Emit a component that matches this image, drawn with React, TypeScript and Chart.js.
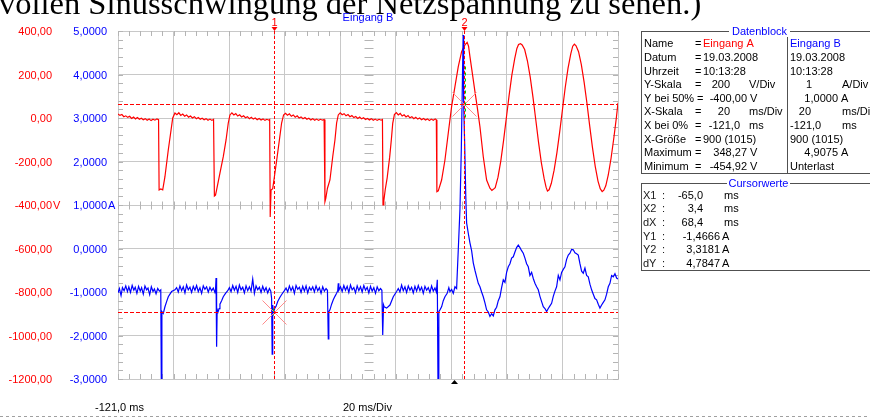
import React, { useEffect, useRef } from 'react';
import { Chart, registerables } from 'chart.js';

Chart.register(...registerables);

// ---------- axis / scale definitions ----------
const X_MIN = -121;
const X_DIV = 20;
const X_DIVS = 9;
const X_MAX = X_MIN + X_DIV * X_DIVS;
const X_GRID = [-121, -101, -81, -61, -41, -21, -1, 19, 39, 59];
const V_TICKS = [400, 200, 0, -200, -400, -600, -800, -1000, -1200];
const V_LABELS = ['400,00', '200,00', '0,00', '-200,00', '-400,00', '-600,00', '-800,00', '-1000,00', '-1200,00'];
const A_TICKS = [5, 4, 3, 2, 1, 0, -1, -2, -3];
const A_LABELS = ['5,0000', '4,0000', '3,0000', '2,0000', '1,0000', '0,0000', '-1,0000', '-2,0000', '-3,0000'];
const X_START_LABEL = '-121,0 ms';
const X_SCALE_LABEL = '20 ms/Div';
const TITLE_B = 'Eingang B';
const TOP_TEXT = 'vollen Sinusschwingung der Netzspannung zu sehen.)';

// cursors
const CURSOR_X1 = -65.0;
const CURSOR_X2 = 3.4;
const CURSOR_Y1 = -1.4666;
const CURSOR_Y2 = 3.3181;
const TRIGGER_T = 0;

// ---------- Eingang A (voltage, V) ----------
const RED_T = [
  -121.0, -120.3, -119.6, -118.9, -118.2, -117.5, -116.8, -116.1, -115.4, -114.7, -114.0, -113.3, -112.6, -111.9, -111.2, -110.5, -109.8, -109.1, -108.4, -107.7, -107.0, -106.4,
  -106.2, -105.6, -104.9, -104.1, -102.9, -101.9, -101.3, -100.5,
  -99.8, -99.1, -98.4, -97.7, -97.0, -96.3, -95.6, -94.9, -94.2, -93.5, -92.8, -92.1, -91.4, -90.7, -90.0, -89.3, -88.6, -87.9, -87.2, -86.6,
  -86.3, -85.9, -85.5, -84.3, -83.1, -82.1, -81.3, -80.7,
  -80.0, -79.3, -78.6, -77.9, -77.2, -76.5, -75.8, -75.1, -74.4, -73.7, -73.0, -72.3, -71.6, -70.9, -70.2, -69.5, -68.8, -68.1, -67.4, -66.7, -66.4,
  -66.2, -65.9, -65.3, -64.7, -63.7, -62.9, -62.1, -61.4,
  -60.7, -60.0, -59.3, -58.6, -57.9, -57.2, -56.5, -55.8, -55.1, -54.4, -53.7, -53.0, -52.3, -51.6, -50.9, -50.2, -49.5, -48.8, -48.1, -47.4, -46.8,
  -46.5, -46.2, -45.6, -44.7, -43.7, -42.9, -42.3, -41.7,
  -41.0, -40.3, -39.6, -38.9, -38.2, -37.5, -36.8, -36.1, -35.4, -34.7, -34.0, -33.3, -32.6, -31.9, -31.2, -30.5, -29.8, -29.1, -28.4, -27.7, -27.0, -26.3, -25.8,
  -25.6, -25.3, -24.8, -24.1, -23.2, -22.6, -22.1, -21.5,
  -20.8, -20.1, -19.4, -18.7, -18.0, -17.3, -16.6, -15.9, -15.2, -14.5, -13.8, -13.1, -12.4, -11.7, -11.0, -10.3, -9.6, -8.9, -8.2, -7.5, -6.8, -6.4,
  -6.2, -5.7, -4.5, -3.3, -2.1, -0.9, 0.3, 1.5, 2.7, 3.9, 4.7, 5.2, 5.7, 6.9, 7.5, 8.3, 9.3, 10.5, 11.7, 12.9, 13.6, 14.1,
  14.8, 15.8, 16.8, 17.8, 18.8, 19.8, 20.8, 21.8, 22.6, 23.2, 23.9, 24.5, 25.4, 26.4, 27.4, 28.4, 29.4, 30.4, 31.4, 32.4, 33.1, 33.6, 34.2,
  35.0, 36.0, 37.0, 38.0, 39.0, 40.0, 41.0, 42.0, 42.7, 43.3, 43.9, 44.8, 45.8, 46.8, 47.8, 48.8, 49.8, 50.8, 51.8, 52.6, 53.3, 53.9,
  54.6, 55.5, 56.5, 57.5, 58.4, 59.0,
];
const RED_V = [
  18, 12, 16, 6, 10, 3, 8, -2, 4, -4, 2, -6, -1, -8, -3, -10, -5, -12, -6, -10, -4, -8,
  -331, -326, -330, -270, -147, -55, 0, 23,
  15, 24, 12, 18, 8, 14, 4, 9, 0, 6, -3, 2, -6, -1, -8, -3, -10, -5, -11, -6,
  -359, -355, -331, -253, -178, -101, -23, 14,
  24, 14, 20, 9, 15, 5, 10, 1, 6, -3, 3, -5, 0, -8, -2, -9, -4, -11, -6, -10, -7,
  -455, -331, -325, -270, -178, -101, -23, 14,
  22, 13, 19, 8, 14, 4, 10, 0, 5, -3, 2, -6, -1, -9, -3, -10, -5, -11, -6, -10, -7,
  -385, -370, -323, -285, -178, -101, -23, 14,
  24, 15, 20, 10, 16, 6, 11, 2, 7, -2, 4, -4, 1, -7, -2, -9, -3, -10, -5, -11, -6, -10, -7,
  -400, -380, -330, -275, -180, -100, -25, 16,
  25, 14, 21, 9, 15, 5, 11, 1, 6, -3, 3, -5, 0, -8, -2, -9, -4, -11, -5, -10, -4, -8,
  -339, -335, -285, -193, -69, 52, 144, 236, 305, 336, 348, 330, 282, 175, 121, 52, -40, -178, -285, -323, -333, -328,
  -320, -272, -198, -104, 0, 104, 198, 272, 320, 338, 342, 336, 315, 262, 188, 95, -8, -112, -205, -278, -318, -336, -330,
  -300, -240, -160, -65, 38, 140, 228, 295, 330, 340, 332, 305, 245, 165, 70, -35, -135, -222, -290, -325, -338, -332,
  -312, -262, -185, -92, 0, 70,
];

// ---------- Eingang B (current, A) ----------
const BLUE_T = [
  -121.0, -120.5, -119.9, -119.4, -118.8, -118.2, -117.6, -117.1, -116.5, -115.9, -115.3, -114.8, -114.2, -113.6, -113.0, -112.5, -111.9, -111.3, -110.7, -110.2, -109.6, -109.0, -108.4, -107.9, -107.3, -106.7, -106.1, -105.6,
  -105.4, -105.2, -104.7, -104.1, -103.5, -102.9, -101.7, -100.5,
  -99.9, -99.3, -98.7, -98.1, -97.5, -96.9, -96.3, -95.7, -95.1, -94.5, -93.9, -93.3, -92.7, -92.1, -91.5, -90.9, -90.3, -89.7, -89.1, -88.5, -87.9, -87.3, -86.7, -86.1,
  -85.9, -85.7, -85.5, -85.3, -85.0, -84.6, -84.3, -83.7, -83.1, -82.3, -81.5,
  -80.9, -80.3, -79.7, -79.1, -78.5, -77.9, -77.3, -76.7, -76.1, -75.5, -74.9, -74.3, -73.7, -73.1, -72.5, -71.9, -71.3, -70.7, -70.1, -69.5, -68.9, -68.3, -67.7, -67.1, -66.5,
  -66.0, -65.7, -65.5, -65.3, -65.0, -64.6, -64.1, -63.5, -62.7, -61.9, -61.1,
  -60.5, -59.9, -59.3, -58.7, -58.1, -57.5, -56.9, -56.3, -55.7, -55.1, -54.5, -53.9, -53.3, -52.7, -52.1, -51.5, -50.9, -50.3, -49.7, -49.1, -48.5, -47.9, -47.3, -46.7, -46.1, -45.6,
  -45.3, -45.1, -44.7, -44.1, -43.5, -42.9, -42.3, -41.9, -41.7, -41.5,
  -40.9, -40.3, -39.7, -39.1, -38.5, -37.9, -37.3, -36.7, -36.1, -35.5, -34.9, -34.3, -33.7, -33.1, -32.5, -31.9, -31.3, -30.7, -30.1, -29.5, -28.9, -28.3, -27.7, -27.1, -26.5, -26.0,
  -25.7, -25.4, -25.2, -24.3, -23.1, -21.9, -20.7, -20.1, -19.5, -18.9,
  -18.3, -17.7, -17.1, -16.5, -15.9, -15.3, -14.7, -14.1, -13.5, -12.9, -12.3, -11.7, -11.1, -10.5, -9.9, -9.3, -8.7, -8.1, -7.5, -6.9, -6.4,
  -6.05, -5.8, -5.5, -5.1, -4.5, -3.9, -3.3, -2.5, -1.9, -1.5, -0.9, -0.3, 0.3, 0.9, 1.5, 2.1, 2.6, 3.0, 3.25, 3.45, 3.8, 4.2,
  4.5, 5.1, 5.7, 6.3, 6.9, 7.5, 8.1, 8.7, 9.3, 9.9, 10.5, 11.1, 11.7, 12.3, 12.9, 13.5, 14.1, 14.7, 15.3, 15.9, 16.5, 17.1, 17.7, 18.3, 18.9,
  19.5, 20.1, 20.7, 21.3, 21.9, 22.5, 23.1, 23.7, 24.3, 24.9, 25.5, 26.1, 26.7, 27.3, 27.9, 28.5, 29.1, 29.7, 30.3, 30.9, 31.5, 32.1, 32.7,
  33.3, 33.9, 34.5, 35.1, 35.7, 36.3, 36.9, 37.5, 38.1, 38.7, 39.3, 39.9, 40.5, 41.1, 41.7, 42.3, 42.9, 43.5, 44.1, 44.7, 45.3, 45.9,
  46.5, 47.1, 47.7, 48.3, 48.9, 49.5, 50.1, 50.7, 51.3, 51.9, 52.5, 53.1, 53.7, 54.3, 54.9, 55.5, 56.1, 56.7, 57.3, 57.9, 58.5, 59.0,
];
const BLUE_A = [
  -1.02, -0.92, -1.08, -0.90, -0.97, -0.86, -0.99, -0.88, -1.01, -0.85, -0.96, -0.89, -1.03, -0.87, -0.98, -0.90, -1.05, -0.86, -0.95, -0.91, -1.06, -0.88, -0.99, -0.93, -1.04, -0.92, -0.98, -0.95,
  -3.2, -1.45, -1.49, -1.34, -1.22, -1.11, -0.99, -0.95,
  -0.90, -1.00, -0.86, -0.97, -0.88, -1.02, -0.84, -0.95, -0.89, -1.01, -0.87, -0.96, -0.85, -0.99, -0.90, -1.03, -0.86, -0.94, -0.88, -1.00, -0.89, -0.97, -0.91, -1.01,
  -0.96, -0.68, -2.26, -1.40, -1.46, -1.38, -1.28, -1.20, -1.11, -1.03, -0.97,
  -0.90, -0.99, -0.85, -0.96, -0.87, -1.01, -0.84, -0.95, -0.89, -1.02, -0.86, -0.97, -0.88, -0.98, -0.70, -1.03, -0.86, -0.95, -0.89, -1.01, -0.87, -0.98, -0.90, -1.02, -0.92,
  -0.98, -1.15, -2.43, -1.30, -1.47, -1.38, -1.33, -1.22, -1.12, -1.04, -0.97,
  -0.91, -1.00, -0.86, -0.97, -0.88, -1.03, -0.85, -0.94, -0.89, -1.01, -0.87, -0.98, -0.86, -1.02, -0.89, -0.96, -0.88, -1.00, -0.86, -0.97, -0.90, -1.03, -0.88, -0.98, -0.92, -0.96,
  -2.08, -1.45, -1.41, -1.28, -1.18, -1.10, -1.03, -0.97, -0.80, -0.96,
  -0.88, -0.99, -0.85, -0.96, -0.87, -1.01, -0.84, -0.95, -0.90, -1.02, -0.86, -0.97, -0.88, -1.00, -0.85, -0.96, -0.89, -1.02, -0.87, -0.98, -0.90, -1.03, -0.88, -0.97, -0.92, -0.96,
  -1.99, -1.30, -1.34, -1.37, -1.30, -1.11, -0.99, -0.92, -1.00, -0.84,
  -0.97, -0.88, -1.01, -0.86, -0.96, -0.89, -1.02, -0.87, -0.98, -0.85, -0.97, -0.89, -1.03, -0.87, -0.96, -0.90, -1.01, -0.86, -0.98, -0.91, -1.00,
  -0.72, -3.2, -1.45, -1.41, -1.34, -1.20, -1.11, -1.03, -0.90, -0.99, -0.94, -1.03, -0.88, -0.92, -0.03, 0.89, 2.3, 3.9, 4.9075, 3.3, 2.4, 1.2,
  0.59, 0.35, 0.13, -0.05, -0.33, -0.50, -0.65, -0.80, -0.88, -1.00, -1.11, -1.25, -1.41, -1.46, -1.56, -1.50, -1.55, -1.41, -1.35, -1.20, -1.11, -0.90, -0.72, -0.78, -0.55,
  -0.42, -0.35, -0.22, -0.19, -0.08, 0.02, 0.08, 0.02, -0.05, -0.11, -0.22, -0.35, -0.42, -0.62, -0.55, -0.69, -0.80, -0.88, -0.95, -1.10, -1.22, -1.34, -1.38,
  -1.45, -1.38, -1.32, -1.26, -1.10, -0.98, -0.88, -0.62, -0.72, -0.55, -0.48, -0.42, -0.25, -0.15, -0.11, -0.02, -0.03, -0.10, -0.12, -0.15, -0.35, -0.52,
  -0.57, -0.45, -0.62, -0.65, -0.82, -0.95, -1.05, -1.15, -1.18, -1.28, -1.37, -1.30, -1.24, -1.18, -1.05, -0.88, -0.80, -0.62, -0.65, -0.58, -0.68, -0.70,
];

// ---------- info panels ----------
const DB_TITLE = 'Datenblock';
const DB_NAMES = ['Name', 'Datum', 'Uhrzeit', 'Y-Skala', 'Y bei 50%', 'X-Skala', 'X bei 0%', 'X-Größe', 'Maximum', 'Minimum'];
const DB_A = ['Eingang A', '19.03.2008', '10:13:28', '200', '-400,00', '20', '-121,0', '900 (1015)', '348,27', '-454,92'];
const DB_A_UNIT = ['', '', '', 'V/Div', 'V', 'ms/Div', 'ms', '', 'V', 'V'];
const DB_B = ['Eingang B', '19.03.2008', '10:13:28', '1', '1,0000', '20', '-121,0', '900 (1015)', '4,9075', 'Unterlast'];
const DB_B_UNIT = ['', '', '', 'A/Div', 'A', 'ms/Div', 'ms', '', 'A', ''];
const CW_TITLE = 'Cursorwerte';
const CW_NAMES = ['X1', 'X2', 'dX', 'Y1', 'Y2', 'dY'];
const CW_VALUES = ['-65,0', '3,4', '68,4', '-1,4666', '3,3181', '4,7847'];
const CW_UNITS = ['ms', 'ms', 'ms', 'A', 'A', 'A'];

const GRID = '#c8c8c8';
const TICK = '#b4b4b4';
const RED = '#ff0000';
const BLUE = '#0000ff';
const FONT = '11px "Liberation Sans", Arial, sans-serif';

const scopePlugin = {
  id: 'scope',
  beforeDatasetsDraw(chart: any) {
    const { ctx, chartArea: ca, scales } = chart;
    const xs = scales.x;
    const yv = scales.yV;
    ctx.save();
    ctx.strokeStyle = TICK;
    ctx.lineWidth = 1;
    ctx.beginPath();
    const midY = Math.round(yv.getPixelForValue(V_TICKS[4])) + 0.5;
    const midX = Math.round(xs.getPixelForValue(X_MIN + (X_DIV * X_DIVS) / 2)) + 0.5;
    for (let k = 0; k <= X_DIVS * 5; k++) {
      const px = Math.round(xs.getPixelForValue(X_MIN + (k * X_DIV) / 5)) + 0.5;
      ctx.moveTo(px, ca.top);
      ctx.lineTo(px, ca.top + 5);
      ctx.moveTo(px, ca.bottom);
      ctx.lineTo(px, ca.bottom - 5);
      ctx.moveTo(px, midY - 4);
      ctx.lineTo(px, midY + 4);
    }
    for (let k = 0; k <= 40; k++) {
      const py = Math.round(yv.getPixelForValue(-1200 + k * 40)) + 0.5;
      ctx.moveTo(ca.left, py);
      ctx.lineTo(ca.left + 5, py);
      ctx.moveTo(ca.right, py);
      ctx.lineTo(ca.right - 5, py);
      ctx.moveTo(midX - 4, py);
      ctx.lineTo(midX + 5, py);
    }
    ctx.stroke();
    ctx.restore();
  },
  afterDatasetsDraw(chart: any) {
    const { ctx, chartArea: ca, scales } = chart;
    const xs = scales.x;
    const ya = scales.yA;
    const x1 = Math.round(xs.getPixelForValue(CURSOR_X1)) + 0.5;
    const x2 = Math.round(xs.getPixelForValue(CURSOR_X2)) + 0.5;
    const y1 = Math.round(ya.getPixelForValue(CURSOR_Y1)) + 0.5;
    const y2 = Math.round(ya.getPixelForValue(CURSOR_Y2)) + 0.5;
    ctx.save();
    ctx.lineWidth = 1;
    // X marks
    ctx.strokeStyle = '#ff8c8c';
    ctx.beginPath();
    for (const [cx, cy] of [[x1, y1], [x2, y2]]) {
      ctx.moveTo(cx - 12, cy - 12);
      ctx.lineTo(cx + 12, cy + 12);
      ctx.moveTo(cx - 12, cy + 12);
      ctx.lineTo(cx + 12, cy - 12);
    }
    ctx.stroke();
    // horizontal cursors
    ctx.strokeStyle = RED;
    ctx.setLineDash([4, 2]);
    ctx.beginPath();
    ctx.moveTo(ca.left, y1);
    ctx.lineTo(ca.right, y1);
    ctx.moveTo(ca.left, y2);
    ctx.lineTo(ca.right, y2);
    ctx.stroke();
    // vertical cursors
    ctx.setLineDash([3, 2]);
    ctx.beginPath();
    ctx.moveTo(x1, ca.top);
    ctx.lineTo(x1, ca.bottom);
    ctx.moveTo(x2, ca.top);
    ctx.lineTo(x2, ca.bottom);
    ctx.stroke();
    // green difference marker
    ctx.strokeStyle = '#00c800';
    ctx.setLineDash([3, 3]);
    ctx.beginPath();
    ctx.moveTo(x2 + 1, y2 - 38);
    ctx.lineTo(x2 + 1, y2 + 16);
    ctx.moveTo(x1 - 1, y1 - 4);
    ctx.lineTo(x1 - 1, y1 + 3);
    ctx.stroke();
    ctx.restore();
  },
  afterDraw(chart: any) {
    const { ctx, chartArea: ca, scales } = chart;
    const xs = scales.x;
    const yv = scales.yV;
    const ya = scales.yA;
    ctx.save();
    // top serif text (cut by the window)
    ctx.fillStyle = '#000';
    ctx.font = '32.5px "Liberation Serif", "Times New Roman", serif';
    ctx.textBaseline = 'alphabetic';
    ctx.textAlign = 'left';
    ctx.fillText(TOP_TEXT, -1, 14);

    ctx.font = FONT;
    // channel title
    ctx.fillStyle = BLUE;
    ctx.textAlign = 'center';
    ctx.textBaseline = 'middle';
    ctx.fillText(TITLE_B, (ca.left + ca.right) / 2, 18);

    // cursor labels + markers
    const x1 = Math.round(xs.getPixelForValue(CURSOR_X1)) + 0.5;
    const x2 = Math.round(xs.getPixelForValue(CURSOR_X2)) + 0.5;
    ctx.fillStyle = RED;
    ctx.fillText('1', x1, 23);
    ctx.fillText('2', x2, 23);
    for (const cx of [x1, x2]) {
      ctx.beginPath();
      ctx.moveTo(cx - 3, ca.top - 4);
      ctx.lineTo(cx + 3, ca.top - 4);
      ctx.lineTo(cx, ca.top);
      ctx.closePath();
      ctx.fill();
    }
    // trigger marker
    const tx = Math.round(xs.getPixelForValue(TRIGGER_T)) + 0.5;
    ctx.fillStyle = '#000';
    ctx.beginPath();
    ctx.moveTo(tx, ca.bottom + 1);
    ctx.lineTo(tx - 3.5, ca.bottom + 5);
    ctx.lineTo(tx + 3.5, ca.bottom + 5);
    ctx.closePath();
    ctx.fill();

    // left axis labels
    ctx.textBaseline = 'middle';
    V_TICKS.forEach((v, i) => {
      const py = yv.getPixelForValue(v) + 1;
      ctx.fillStyle = RED;
      ctx.textAlign = 'right';
      ctx.fillText(V_LABELS[i], 52, py);
      if (i === 4) {
        ctx.textAlign = 'left';
        ctx.fillText('V', 53, py);
      }
    });
    A_TICKS.forEach((a, i) => {
      const py = ya.getPixelForValue(a) + 1;
      ctx.fillStyle = BLUE;
      ctx.textAlign = 'right';
      ctx.fillText(A_LABELS[i], 107, py);
      if (i === 4) {
        ctx.textAlign = 'left';
        ctx.fillText('A', 108, py);
      }
    });

    // bottom labels
    ctx.fillStyle = '#000';
    ctx.textAlign = 'left';
    ctx.fillText(X_START_LABEL, 95, 408);
    ctx.fillText(X_SCALE_LABEL, 343, 408);
    ctx.strokeStyle = '#a0a0a0';
    ctx.setLineDash([3, 3]);
    ctx.beginPath();
    ctx.moveTo(0, 416.5);
    ctx.lineTo(870, 416.5);
    ctx.stroke();
    ctx.setLineDash([]);

    // Datenblock panel
    ctx.strokeStyle = '#505050';
    ctx.lineWidth = 1;
    ctx.strokeRect(641.5, 31.5, 240, 142);
    ctx.beginPath();
    ctx.moveTo(787.5, 37);
    ctx.lineTo(787.5, 174);
    ctx.stroke();
    ctx.fillStyle = '#fff';
    ctx.fillRect(729, 26, 61, 11);
    ctx.fillStyle = BLUE;
    ctx.textAlign = 'center';
    ctx.fillText(DB_TITLE, 759.5, 31.5);

    DB_NAMES.forEach((name, i) => {
      const py = 44.3 + i * 13.6;
      ctx.fillStyle = '#000';
      ctx.textAlign = 'left';
      ctx.fillText(name, 644, py);
      ctx.fillText('=', i === 4 ? 697 : 695, py);
      // channel A
      ctx.fillStyle = i === 0 ? RED : '#000';
      if ([0, 1, 2, 7].includes(i)) {
        ctx.textAlign = 'left';
        ctx.fillText(DB_A[i], 703, py);
      } else {
        const right = i === 3 || i === 5 ? 730 : i === 6 ? 740 : 747;
        const ux = i === 3 || i === 5 || i === 6 ? 749 : 750;
        ctx.textAlign = 'right';
        ctx.fillText(DB_A[i], right, py);
        ctx.textAlign = 'left';
        ctx.fillText(DB_A_UNIT[i], ux, py);
      }
      // channel B
      ctx.fillStyle = i === 0 ? BLUE : '#000';
      if ([0, 1, 2, 7, 9].includes(i)) {
        ctx.textAlign = 'left';
        ctx.fillText(DB_B[i], 790, py);
      } else if (i === 6) {
        ctx.textAlign = 'left';
        ctx.fillText(DB_B[i], 790, py);
        ctx.fillText(DB_B_UNIT[i], 842, py);
      } else {
        const right = i === 3 ? 812 : i === 5 ? 811 : 838;
        const ux = i === 3 || i === 5 ? 842 : 841;
        ctx.textAlign = 'right';
        ctx.fillText(DB_B[i], right, py);
        ctx.textAlign = 'left';
        ctx.fillText(DB_B_UNIT[i], ux, py);
      }
    });

    // Cursorwerte panel
    ctx.strokeStyle = '#505050';
    ctx.strokeRect(641.5, 183.5, 240, 87);
    ctx.fillStyle = '#fff';
    ctx.fillRect(727, 178, 63, 11);
    ctx.fillStyle = BLUE;
    ctx.textAlign = 'center';
    ctx.fillText(CW_TITLE, 758.5, 183.5);
    CW_NAMES.forEach((name, i) => {
      const py = 195.5 + i * 13.7;
      ctx.fillStyle = '#202020';
      ctx.textAlign = 'left';
      ctx.fillText(name, 643, py);
      ctx.fillText(':', 662, py);
      ctx.fillStyle = '#000';
      ctx.textAlign = 'right';
      ctx.fillText(CW_VALUES[i], i < 3 ? 703 : 720, py);
      ctx.textAlign = 'left';
      ctx.fillText(CW_UNITS[i], i < 3 ? 724 : 722, py);
    });
    ctx.restore();
  },
};

export default function App() {
  const ref = useRef<HTMLCanvasElement>(null);
  useEffect(() => {
    const canvas = ref.current;
    if (!canvas) return;
    const blue = BLUE_T.map((t, i) => ({ x: t, y: BLUE_A[i] }));
    const red = RED_T.map((t, i) => ({ x: t, y: RED_V[i] }));
    const chart = new Chart(canvas, {
      type: 'line',
      data: {
        datasets: [
          {
            label: 'Eingang B',
            data: blue,
            yAxisID: 'yA',
            borderColor: BLUE,
            borderWidth: 1.2,
            pointRadius: 0,
            tension: 0,
            fill: false,
          },
          {
            label: 'Eingang A',
            data: red,
            yAxisID: 'yV',
            borderColor: RED,
            borderWidth: 1.2,
            pointRadius: 0,
            tension: 0,
            fill: false,
          },
        ],
      },
      options: {
        animation: false,
        responsive: false,
        devicePixelRatio: 1,
        events: [],
        layout: { padding: { left: 118, top: 31, right: 252, bottom: 40 } },
        plugins: {
          legend: { display: false },
          tooltip: { enabled: false },
          title: { display: false },
        },
        scales: {
          x: {
            type: 'linear',
            min: X_MIN,
            max: X_MAX,
            afterBuildTicks: (axis: any) => {
              axis.ticks = X_GRID.map((v) => ({ value: v }));
            },
            ticks: { display: false },
            grid: { color: GRID, drawTicks: false, lineWidth: 1 },
            border: { display: true, color: GRID },
          },
          yV: {
            type: 'linear',
            position: 'left',
            min: -1200,
            max: 400,
            afterBuildTicks: (axis: any) => {
              axis.ticks = V_TICKS.map((v) => ({ value: v }));
            },
            ticks: { display: false },
            grid: { color: GRID, drawTicks: false, lineWidth: 1 },
            border: { display: true, color: GRID },
          },
          yA: {
            type: 'linear',
            display: false,
            min: -3,
            max: 5,
          },
        },
      },
      plugins: [scopePlugin],
    });
    return () => chart.destroy();
  }, []);
  return (
    <div style={{ position: 'absolute', left: 0, top: 0, width: 870, height: 419, background: '#fff', overflow: 'hidden' }}>
      <canvas ref={ref} width={870} height={419} style={{ display: 'block', width: 870, height: 419 }} />
    </div>
  );
}
